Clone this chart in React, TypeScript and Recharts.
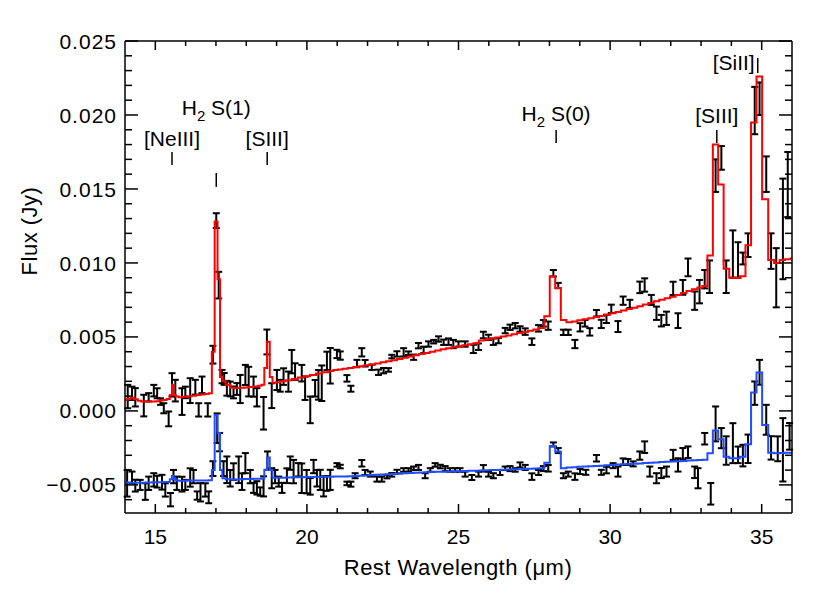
import React from 'react';
import {
  ComposedChart,
  Line,
  Scatter,
  ErrorBar,
  XAxis,
  YAxis,
  ReferenceLine,
  ReferenceDot,
} from 'recharts';

// all fluxes below are in mJy, converted to Jy when the rows are built

// [wavelength, red fit, blue fit]
const modelFit: [number, number, number][] = [
  [14.0, 0.74, -4.84], [14.12, 0.8, -4.84], [14.24, 0.9, -4.85], [14.36, 0.78, -4.85],
  [14.48, 0.68, -4.85], [14.6, 0.64, -4.85], [14.72, 0.63, -4.84], [14.84, 0.63, -4.84],
  [14.96, 0.64, -4.83], [15.08, 0.66, -4.83], [15.2, 0.7, -4.82], [15.32, 0.74, -4.81],
  [15.43, 0.8, -4.8], [15.525, 1.08, -4.62], [15.575, 1.76, -4.4], [15.63, 1.08, -4.6],
  [15.715, 0.97, -4.7], [15.83, 0.92, -4.72], [15.97, 0.95, -4.72], [16.12, 0.99, -4.71],
  [16.27, 1.03, -4.71], [16.42, 1.07, -4.7], [16.57, 1.11, -4.7], [16.7, 1.15, -4.7],
  [16.82, 1.19, -4.69], [16.91, 4.0, -4.0], [17.005, 12.8, -0.27], [17.1, 8.9, -1.5],
  [17.17, 2.3, -4.0], [17.25, 2.0, -4.55], [17.39, 1.76, -4.62], [17.55, 1.56, -4.64],
  [17.7, 1.55, -4.63], [17.85, 1.56, -4.62], [18.0, 1.59, -4.61], [18.15, 1.62, -4.6],
  [18.3, 1.65, -4.59], [18.46, 1.7, -4.58], [18.55, 1.76, -4.56], [18.64, 2.9, -4.0],
  [18.73, 4.68, -3.15], [18.82, 2.3, -4.0], [18.91, 1.9, -4.52], [19.05, 1.94, -4.52],
  [19.2, 2.0, -4.51], [19.4, 2.08, -4.5], [19.6, 2.16, -4.49], [19.8, 2.25, -4.48],
  [20.0, 2.34, -4.47], [20.2, 2.43, -4.46], [20.4, 2.52, -4.46], [20.6, 2.61, -4.45],
  [20.8, 2.7, -4.45], [20.95, 2.76, -4.44], [21.08, 2.8, -4.44], [21.26, 2.85, -4.43],
  [21.44, 2.9, -4.42], [21.62, 2.96, -4.4], [21.8, 3.02, -4.38], [21.98, 3.08, -4.36],
  [22.16, 3.14, -4.34], [22.34, 3.2, -4.32], [22.52, 3.28, -4.3], [22.7, 3.35, -4.28],
  [22.88, 3.43, -4.26], [23.06, 3.51, -4.24], [23.24, 3.59, -4.22], [23.42, 3.67, -4.2],
  [23.6, 3.76, -4.18], [23.78, 3.84, -4.16], [23.96, 3.92, -4.14], [24.14, 4.0, -4.13],
  [24.32, 4.08, -4.12], [24.5, 4.16, -4.11], [24.68, 4.24, -4.1], [24.86, 4.31, -4.08],
  [25.04, 4.37, -4.07], [25.22, 4.43, -4.06], [25.4, 4.5, -4.05], [25.58, 4.58, -4.04],
  [25.76, 4.76, -4.02], [25.94, 4.83, -4.01], [26.12, 4.89, -4.0], [26.3, 4.96, -3.99],
  [26.48, 5.03, -3.98], [26.66, 5.1, -3.96], [26.84, 5.18, -3.95], [27.02, 5.26, -3.94],
  [27.2, 5.34, -3.92], [27.38, 5.42, -3.91], [27.56, 5.5, -3.89], [27.74, 5.6, -3.87],
  [27.92, 6.4, -3.5], [28.1, 9.1, -2.37], [28.28, 8.3, -2.75], [28.47, 6.15, -3.87],
  [28.65, 6.0, -3.82], [28.83, 6.05, -3.8], [29.01, 6.12, -3.78], [29.19, 6.19, -3.76],
  [29.37, 6.27, -3.74], [29.55, 6.35, -3.72], [29.73, 6.42, -3.7], [29.91, 6.5, -3.68],
  [30.09, 6.6, -3.66], [30.27, 6.69, -3.63], [30.45, 6.78, -3.61], [30.63, 6.88, -3.59],
  [30.81, 6.98, -3.57], [30.99, 7.08, -3.55], [31.17, 7.19, -3.52], [31.35, 7.3, -3.5],
  [31.53, 7.41, -3.48], [31.71, 7.51, -3.46], [31.89, 7.61, -3.44], [32.07, 7.72, -3.42],
  [32.25, 7.84, -3.4], [32.43, 7.97, -3.38], [32.61, 8.1, -3.36], [32.79, 8.22, -3.34],
  [32.97, 8.34, -3.32], [33.12, 8.45, -3.3], [33.3, 10.5, -2.86], [33.48, 18.0, -1.33],
  [33.65, 15.3, -1.92], [33.84, 9.6, -3.09], [34.02, 9.0, -3.2], [34.19, 9.0, -3.2],
  [34.37, 9.1, -3.09], [34.56, 11.2, -2.25], [34.74, 19.5, 1.24], [34.92, 22.6, 2.59],
  [35.11, 14.3, -0.95], [35.32, 10.2, -2.82], [35.5, 10.0, -2.86], [35.68, 10.2, -2.84],
  [35.86, 10.25, -2.83], [36.04, 10.3, -2.82],
];

// [wavelength, flux, 1-sigma error] for the upper spectrum
const upperSpectrum: [number, number, number][] = [
  [14.09, 0.97, 0.79], [14.23, 1.19, 0.45], [14.34, 0.92, 0.62], [14.62, 0.36, 0.73],
  [14.78, 0.92, 0.28], [14.95, 1.37, 0.39], [15.06, 1.19, 0.34], [15.17, 0.63, 0.22],
  [15.28, 0.18, 0.34], [15.44, -0.54, 0.5], [15.55, 1.76, 0.79], [15.66, 1.37, 0.73],
  [15.88, 0.63, 0.9], [15.99, 1.25, 0.39], [16.15, 1.37, 0.84], [16.32, 1.6, 0.5],
  [16.43, 0.07, 0.45], [16.54, 1.76, 0.56], [16.73, 0.07, 0.45], [16.9, 3.8, 0.6],
  [17.01, 12.86, 0.5], [17.09, 8.5, 0.9], [17.2, 2.32, 0.45], [17.27, 2.16, 0.4],
  [17.36, 1.53, 0.5], [17.47, 1.48, 0.5], [17.58, 1.25, 0.4], [17.69, 1.48, 0.4],
  [17.8, 1.48, 0.95], [17.97, 2.43, 0.68], [18.08, 1.98, 1.0], [18.24, 1.64, 0.68],
  [18.35, 0.92, 0.62], [18.57, -0.16, 1.1], [18.68, 4.66, 0.84], [18.84, 1.03, 0.84],
  [19.01, 2.09, 0.68], [19.12, 1.7, 0.4], [19.23, 2.32, 0.56], [19.39, 1.98, 0.68],
  [19.5, 3.33, 0.79], [19.61, 2.66, 0.56], [19.83, 2.55, 0.56], [19.94, 1.53, 0.79],
  [20.11, 0.07, 0.9], [20.27, 1.53, 0.56], [20.38, 1.76, 1.0], [20.49, 1.87, 1.2],
  [20.66, 3.38, 0.62], [20.77, 3.05, 1.2], [20.99, 3.85, 0.28], [21.1, 3.74, 0.28],
  [21.32, 2.2, 0.22], [21.45, 1.5, 0.2], [21.65, 3.2, 0.25], [21.81, 3.96, 0.28],
  [21.92, 3.22, 0.22], [22.14, 2.95, 0.18], [22.36, 2.61, 0.18], [22.53, 2.72, 0.18],
  [22.69, 2.77, 0.12], [22.8, 3.67, 0.12], [22.97, 3.85, 0.18], [23.19, 3.96, 0.28],
  [23.35, 3.9, 0.12], [23.52, 3.63, 0.18], [23.68, 4.41, 0.18], [23.85, 4.12, 0.22],
  [24.01, 4.52, 0.18], [24.18, 4.68, 0.12], [24.34, 4.86, 0.18], [24.51, 4.64, 0.18],
  [24.67, 4.68, 0.22], [24.83, 4.52, 0.28], [25.0, 4.52, 0.18], [25.22, 4.52, 0.18],
  [25.49, 4.19, 0.28], [25.66, 4.34, 0.22], [25.82, 5.13, 0.22], [25.99, 4.97, 0.18],
  [26.15, 4.68, 0.22], [26.32, 4.75, 0.18], [26.54, 5.43, 0.18], [26.7, 5.65, 0.18],
  [26.87, 5.76, 0.18], [27.03, 5.54, 0.18], [27.2, 5.36, 0.22], [27.42, 4.68, 0.22],
  [27.64, 5.58, 0.22], [27.8, 5.92, 0.22], [27.96, 5.76, 0.28], [28.13, 9.3, 0.22],
  [28.29, 8.47, 0.18], [28.46, 5.31, 0.18], [28.62, 5.31, 0.18], [28.84, 4.52, 0.28],
  [29.01, 5.65, 0.28], [29.17, 5.92, 0.22], [29.33, 5.34, 0.25], [29.55, 6.6, 0.22],
  [29.71, 5.88, 0.28], [29.88, 6.22, 0.28], [30.04, 6.9, 0.28], [30.26, 5.7, 0.37],
  [30.43, 7.45, 0.28], [30.65, 7.23, 0.28], [30.98, 8.35, 0.39], [31.14, 8.51, 0.45],
  [31.36, 7.5, 0.34], [31.53, 6.6, 0.45], [31.69, 6.1, 0.39], [31.86, 6.26, 0.45],
  [32.08, 8.28, 0.45], [32.24, 6.1, 0.5], [32.4, 8.35, 0.5], [32.57, 9.7, 0.6],
  [32.79, 7.45, 0.62], [32.95, 8.06, 0.79], [33.12, 8.9, 0.62], [33.28, 9.07, 1.1],
  [33.48, 15.9, 1.1], [33.67, 17.1, 0.8], [33.83, 9.07, 1.1], [34.05, 10.6, 1.6],
  [34.22, 10.2, 1.2], [34.38, 10.3, 0.4], [34.55, 11.2, 0.8], [34.77, 20.3, 1.6],
  [34.93, 21.1, 1.1], [35.15, 16.0, 1.2], [35.31, 10.8, 1.2], [35.48, 9.0, 2.0],
  [35.7, 12.3, 3.4], [35.86, 15.3, 2.2],
];

// [wavelength, flux, 1-sigma error] for the lower (offset) spectrum
const lowerSpectrum: [number, number, number][] = [
  [14.07, -4.89, 0.9], [14.23, -4.5, 0.4], [14.34, -5.05, 0.4], [14.5, -5.0, 0.34],
  [14.67, -5.45, 0.56], [14.78, -4.89, 0.45], [14.95, -4.66, 0.45], [15.06, -4.78, 0.4],
  [15.22, -4.82, 0.5], [15.33, -5.34, 0.45], [15.5, -6.0, 0.45], [15.6, -4.44, 0.45],
  [15.71, -4.89, 0.45], [15.88, -4.95, 0.5], [15.99, -5.0, 0.34], [16.15, -4.5, 0.62],
  [16.26, -4.44, 0.45], [16.38, -5.72, 0.28], [16.49, -5.5, 0.62], [16.65, -5.34, 0.45],
  [16.76, -5.84, 0.4], [16.9, -3.9, 0.5], [17.04, -1.17, 1.0], [17.12, -2.11, 0.62],
  [17.25, -3.9, 0.5], [17.36, -3.98, 0.9], [17.47, -4.55, 0.56], [17.58, -4.1, 0.56],
  [17.75, -3.98, 0.9], [17.86, -4.78, 0.56], [17.97, -3.53, 0.68], [18.13, -4.44, 0.45],
  [18.24, -5.2, 0.34], [18.35, -5.2, 0.45], [18.46, -5.45, 0.28], [18.57, -5.1, 0.68],
  [18.7, -3.36, 0.62], [18.84, -4.55, 0.68], [18.95, -4.44, 0.45], [19.07, -4.78, 0.34],
  [19.18, -5.2, 0.34], [19.34, -4.38, 0.5], [19.45, -3.53, 0.45], [19.56, -4.1, 0.79],
  [19.72, -3.98, 0.45], [19.83, -4.55, 1.0], [19.99, -4.78, 0.79], [20.11, -5.1, 0.56],
  [20.22, -3.76, 0.45], [20.33, -4.55, 0.56], [20.44, -4.66, 0.68], [20.55, -5.1, 0.68],
  [20.66, -4.9, 0.5], [20.77, -4.66, 0.68], [20.99, -3.65, 0.12], [21.1, -3.76, 0.12],
  [21.32, -4.9, 0.12], [21.45, -4.95, 0.17], [21.59, -4.38, 0.17], [21.81, -3.54, 0.22],
  [21.92, -4.16, 0.17], [22.09, -4.27, 0.17], [22.31, -4.61, 0.17], [22.47, -4.61, 0.17],
  [22.64, -4.44, 0.12], [22.8, -4.32, 0.12], [22.97, -4.1, 0.12], [23.19, -3.99, 0.12],
  [23.35, -3.99, 0.12], [23.52, -3.88, 0.12], [23.68, -3.82, 0.17], [23.9, -4.38, 0.17],
  [24.07, -3.99, 0.12], [24.23, -3.65, 0.12], [24.4, -3.76, 0.12], [24.56, -3.9, 0.17],
  [24.72, -3.99, 0.12], [24.89, -3.99, 0.12], [25.05, -3.99, 0.12], [25.22, -4.27, 0.17],
  [25.44, -4.5, 0.17], [25.66, -4.27, 0.17], [25.82, -3.88, 0.22], [25.99, -4.27, 0.17],
  [26.15, -4.38, 0.17], [26.37, -4.16, 0.17], [26.54, -3.88, 0.12], [26.7, -3.9, 0.17],
  [26.87, -3.99, 0.12], [27.03, -3.65, 0.17], [27.2, -3.82, 0.17], [27.42, -4.44, 0.22],
  [27.64, -4.16, 0.17], [27.8, -3.9, 0.17], [27.96, -3.88, 0.22], [28.13, -2.27, 0.14],
  [28.29, -2.68, 0.17], [28.46, -4.38, 0.17], [28.62, -4.27, 0.17], [28.84, -4.44, 0.22],
  [29.01, -4.1, 0.17], [29.2, -4.15, 0.17], [29.55, -3.2, 0.22], [29.71, -4.15, 0.17],
  [29.88, -4.0, 0.22], [30.1, -3.7, 0.17], [30.26, -4.1, 0.34], [30.43, -3.43, 0.22],
  [30.59, -3.45, 0.2], [30.76, -3.58, 0.17], [30.98, -3.02, 0.28], [31.14, -2.45, 0.39],
  [31.31, -4.1, 0.34], [31.53, -4.55, 0.34], [31.69, -4.2, 0.34], [31.86, -4.1, 0.34],
  [32.08, -2.97, 0.34], [32.24, -3.65, 0.45], [32.4, -2.9, 0.39], [32.57, -2.79, 0.39],
  [32.79, -4.15, 0.39], [32.9, -4.55, 0.68], [33.12, -1.88, 0.39], [33.32, -5.6, 0.73],
  [33.48, -0.88, 1.18], [33.67, -1.84, 0.68], [33.83, -2.68, 0.96], [34.05, -2.18, 1.35],
  [34.22, -2.97, 0.56], [34.38, -3.02, 0.73], [34.55, -2.56, 0.96], [34.77, 1.2, 0.79],
  [34.93, 2.61, 0.84], [35.15, -0.6, 1.01], [35.31, -2.5, 0.79], [35.53, -2.56, 0.84],
  [35.7, -2.63, 2.14], [35.92, -1.72, 0.9],
];

const xTicks = [15, 16, 17, 18, 19, 20, 21, 22, 23, 24, 25, 26, 27, 28, 29, 30, 31, 32, 33, 34, 35];
const yTicks = [
  -0.006, -0.005, -0.004, -0.003, -0.002, -0.001, 0, 0.001, 0.002, 0.003, 0.004, 0.005,
  0.006, 0.007, 0.008, 0.009, 0.01, 0.011, 0.012, 0.013, 0.014, 0.015, 0.016, 0.017,
  0.018, 0.019, 0.02, 0.021, 0.022, 0.023, 0.024, 0.025,
];

// emission line marks: text position and tick ends in mJy
const lineMarks = [
  { name: '[NeIII]', wave: 15.55, textY: 17.9, tickTop: 17.5, tickBottom: 16.62, anchor: 'middle' },
  { name: 'H2 S(1)', wave: 17.01, textY: 20.0, tickTop: 16.08, tickBottom: 15.14, anchor: 'middle' },
  { name: '[SIII]', wave: 18.69, textY: 17.9, tickTop: 17.5, tickBottom: 16.62, anchor: 'middle' },
  { name: 'H2 S(0)', wave: 28.22, textY: 19.6, tickTop: 18.99, tickBottom: 18.1, anchor: 'middle' },
  { name: '[SIII]', wave: 33.52, textY: 19.46, tickTop: 18.99, tickBottom: 18.1, anchor: 'middle' },
  { name: '[SiII]', wave: 34.87, textY: 23.04, tickTop: 23.85, tickBottom: 22.84, anchor: 'end' },
];

const modelRows = modelFit.map(([w, r, b]) => ({ w, red: r / 1000, blue: b / 1000 }));
const upperRows = upperSpectrum.map(([w, f, e]) => ({ w, f: f / 1000, e: e / 1000 }));
const lowerRows = lowerSpectrum.map(([w, f, e]) => ({ w, f: f / 1000, e: e / 1000 }));

const FONT = '"Liberation Sans", Arial, sans-serif';
const AXIS = { stroke: '#000', strokeWidth: 1.5 };

const fmtY = (v: number) => {
  const s = Math.abs(v).toFixed(3);
  return v < -1e-9 ? '\u2212' + s : s;
};
const isMajorY = (v: number) => Math.abs(Math.round(v * 1000)) % 5 === 0;

const BottomTick = (p: any) => {
  const { x, y, payload } = p;
  const major = payload.value % 5 === 0;
  return (
    <g>
      <line x1={x} y1={y} x2={x} y2={y - (major ? 9 : 5)} stroke="#000" strokeWidth={1.5} />
      {major && (
        <text x={x} y={y + 31} textAnchor="middle" fontSize={21} fontFamily={FONT} fill="#000">
          {payload.value}
        </text>
      )}
    </g>
  );
};

const TopTick = (p: any) => {
  const { x, y, payload } = p;
  const major = payload.value % 5 === 0;
  return <line x1={x} y1={y} x2={x} y2={y + (major ? 9 : 5)} stroke="#000" strokeWidth={1.5} />;
};

const LeftTick = (p: any) => {
  const { x, y, payload } = p;
  const major = isMajorY(payload.value);
  return (
    <g>
      <line x1={x} y1={y} x2={x + (major ? 13 : 7)} y2={y} stroke="#000" strokeWidth={1.5} />
      {major && (
        <text x={x - 8} y={y} dy="0.36em" textAnchor="end" fontSize={21} letterSpacing={1} fontFamily={FONT} fill="#000">
          {fmtY(payload.value)}
        </text>
      )}
    </g>
  );
};

const RightTick = (p: any) => {
  const { x, y, payload } = p;
  const major = isMajorY(payload.value);
  return <line x1={x} y1={y} x2={x - (major ? 13 : 7)} y2={y} stroke="#000" strokeWidth={1.5} />;
};

const XTitle = () => (
  <text x={458} y={575} textAnchor="middle" fontSize={22} letterSpacing={0.5} fontFamily={FONT} fill="#000">
    Rest Wavelength (μm)
  </text>
);

const YTitle = () => (
  <text
    x={29}
    y={231}
    transform="rotate(-90, 29, 231)"
    textAnchor="middle"
    dy="0.35em"
    fontSize={22}
    letterSpacing={0.5}
    fontFamily={FONT}
    fill="#000"
  >
    Flux (Jy)
  </text>
);

const NoDot = () => <g />;

const markText = (name: string, cx: number, cy: number, anchor: string) => {
  const common = { fontSize: 21, fontFamily: FONT, fill: '#000', textAnchor: anchor as any };
  if (name.startsWith('H2')) {
    return (
      <text x={cx} y={cy} {...common}>
        H<tspan fontSize={15} dy={6}>2</tspan>
        <tspan dy={-6}>{'\u00a0' + name.slice(3)}</tspan>
      </text>
    );
  }
  return (
    <text x={cx} y={cy} {...common}>
      {name}
    </text>
  );
};

export default function App() {
  return (
    <div style={{ position: 'absolute', left: 0, top: 0, background: '#fff' }}>
      <ComposedChart width={830} height={593} margin={{ top: 40, right: 37, bottom: 0, left: 0 }}>
        <XAxis
          dataKey="w"
          type="number"
          domain={[14, 36]}
          allowDataOverflow
          ticks={xTicks}
          interval={0}
          tick={BottomTick}
          tickLine={false}
          tickSize={0}
          tickMargin={0}
          height={80}
          axisLine={AXIS}
          label={<XTitle />}
        />
        <XAxis
          xAxisId="top"
          orientation="top"
          dataKey="w"
          type="number"
          domain={[14, 36]}
          allowDataOverflow
          ticks={xTicks}
          interval={0}
          tick={TopTick}
          tickLine={false}
          tickSize={0}
          tickMargin={0}
          height={1}
          axisLine={AXIS}
        />
        <YAxis
          type="number"
          domain={[-0.0069, 0.025]}
          allowDataOverflow
          ticks={yTicks}
          interval={0}
          tick={LeftTick}
          tickLine={false}
          tickSize={0}
          tickMargin={0}
          width={125}
          axisLine={AXIS}
          label={<YTitle />}
        />
        <YAxis
          yAxisId="right"
          orientation="right"
          type="number"
          domain={[-0.0069, 0.025]}
          allowDataOverflow
          ticks={yTicks}
          interval={0}
          tick={RightTick}
          tickLine={false}
          tickSize={0}
          tickMargin={0}
          width={1}
          axisLine={AXIS}
        />

        <Scatter data={upperRows} dataKey="f" shape={NoDot} isAnimationActive={false}>
          <ErrorBar dataKey="e" direction="y" width={3.5} stroke="#000" strokeWidth={2} />
        </Scatter>
        <Scatter data={lowerRows} dataKey="f" shape={NoDot} isAnimationActive={false}>
          <ErrorBar dataKey="e" direction="y" width={3.5} stroke="#000" strokeWidth={2} />
        </Scatter>

        <Line
          data={modelRows}
          dataKey="red"
          type="step"
          stroke="#ff0000"
          strokeWidth={2}
          dot={false}
          isAnimationActive={false}
        />
        <Line
          data={modelRows}
          dataKey="blue"
          type="step"
          stroke="#1f4dff"
          strokeWidth={2}
          dot={false}
          isAnimationActive={false}
        />

        {/* invisible series so the top and right axes get drawn */}
        <Line
          data={modelRows}
          dataKey="red"
          xAxisId="top"
          yAxisId="right"
          stroke="none"
          dot={false}
          activeDot={false}
          isAnimationActive={false}
        />

        {lineMarks.map((m, i) => (
          <ReferenceLine
            key={'t' + i}
            segment={[
              { x: m.wave, y: m.tickTop / 1000 },
              { x: m.wave, y: m.tickBottom / 1000 },
            ]}
            stroke="#000"
            strokeWidth={1.5}
          />
        ))}
        {lineMarks.map((m, i) => (
          <ReferenceDot
            key={'l' + i}
            x={m.anchor === 'end' ? m.wave - 0.1 : m.wave}
            y={m.textY / 1000}
            r={0}
            shape={(p: any) => markText(m.name, p.cx, p.cy, m.anchor)}
          />
        ))}
      </ComposedChart>
    </div>
  );
}
